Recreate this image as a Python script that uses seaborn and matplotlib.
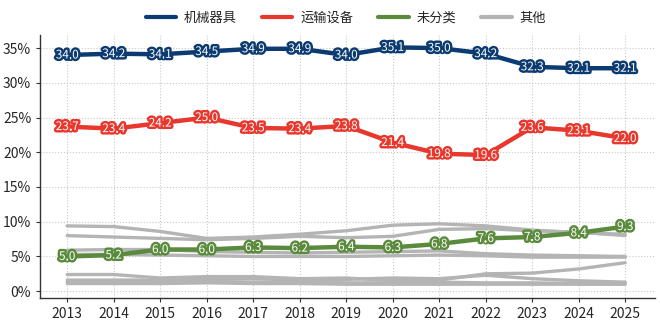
import matplotlib
matplotlib.use("Agg")
import matplotlib.pyplot as plt
import matplotlib.patheffects as pe
from matplotlib.ticker import FuncFormatter
from matplotlib.lines import Line2D
import seaborn as sns
import pandas as pd

years = list(range(2013, 2026))

machinery = [34.0, 34.2, 34.1, 34.5, 34.9, 34.9, 34.0, 35.1, 35.0, 34.2, 32.3, 32.1, 32.1]
transport = [23.7, 23.4, 24.2, 25.0, 23.5, 23.4, 23.8, 21.4, 19.8, 19.6, 23.6, 23.1, 22.0]
unclassified = [5.0, 5.2, 6.0, 6.0, 6.3, 6.2, 6.4, 6.3, 6.8, 7.6, 7.8, 8.4, 9.3]

others = [
    [9.4, 9.3, 8.6, 7.6, 7.8, 8.2, 8.7, 9.5, 9.7, 9.4, 8.8, 8.4, 8.2],
    [8.0, 7.8, 7.6, 7.4, 7.6, 7.9, 7.7, 7.9, 8.9, 9.0, 8.7, 8.5, 8.0],
    [5.9, 6.0, 6.0, 5.7, 5.6, 5.5, 5.6, 5.7, 5.8, 5.4, 5.2, 5.1, 5.0],
    [5.3, 5.3, 5.2, 5.1, 5.0, 5.0, 5.0, 5.1, 5.2, 5.1, 4.9, 4.9, 4.9],
    [2.4, 2.4, 1.9, 2.1, 2.1, 1.8, 1.9, 1.5, 1.6, 2.5, 2.6, 3.2, 4.1],
    [1.6, 1.6, 1.6, 1.7, 1.8, 1.6, 1.7, 1.9, 1.8, 2.3, 1.8, 1.5, 1.3],
    [1.3, 1.3, 1.4, 1.4, 1.3, 1.3, 1.2, 1.2, 1.3, 1.2, 1.2, 1.1, 1.1],
    [1.1, 1.1, 1.1, 1.2, 1.1, 1.1, 1.0, 1.0, 1.0, 1.0, 1.0, 1.0, 1.0],
]

main_names = ["机械器具", "运输设备", "未分类"]
main_values = [machinery, transport, unclassified]
main_colors = ["#0b3b70", "#e8372c", "#5a8a3c"]
other_name = "其他"
other_color = "#b4b4b4"

sns.set_style("white")
plt.rcParams["font.family"] = ["Noto Sans CJK SC", "DejaVu Sans"]

fig = plt.figure(figsize=(6.6, 3.23), dpi=100)
ax = fig.add_axes([0.061, 0.077, 0.932, 0.815])

rows = []
for i, vals in enumerate(others):
    for y, v in zip(years, vals):
        rows.append({"year": y, "value": v, "series": f"o{i}"})
df_o = pd.DataFrame(rows)
sns.lineplot(data=df_o, x="year", y="value", units="series", estimator=None,
             color=other_color, linewidth=2.4, ax=ax, zorder=2, legend=False)

for name, vals, col in zip(main_names, main_values, main_colors):
    d = pd.DataFrame({"year": years, "value": vals})
    sns.lineplot(data=d, x="year", y="value", color=col, linewidth=3.2, ax=ax, zorder=3)
    for x, v in zip(years, vals):
        ax.text(x, v, f"{v:.1f}", ha="center", va="center", fontsize=8.5,
                color="white", zorder=5,
                path_effects=[pe.withStroke(linewidth=3.5, foreground=col)])

handles = [Line2D([], [], color=c, linewidth=3) for c in main_colors]
handles.append(Line2D([], [], color=other_color, linewidth=3))
labels = main_names + [other_name]
fig.legend(handles, labels, loc="upper center", bbox_to_anchor=(0.524, 1.0), ncol=4,
           frameon=False, fontsize=9.5, handlelength=2.3, handletextpad=0.6,
           columnspacing=1.9)

ax.set_xlim(2012.42, 2025.65)
ax.set_ylim(-1.0, 36.9)
ax.set_xticks(years)
ax.set_yticks([0, 5, 10, 15, 20, 25, 30, 35])
ax.yaxis.set_major_formatter(FuncFormatter(lambda v, p: f"{v:.0f}%"))
ax.tick_params(axis="both", labelsize=10, length=3, color="#333333", left=True, bottom=True)
ax.set_xlabel("")
ax.set_ylabel("")
ax.grid(True, linestyle=":", color="#c8c8c8", linewidth=0.8)
for s in ["top", "right"]:
    ax.spines[s].set_visible(False)
for s in ["left", "bottom"]:
    ax.spines[s].set_color("#333333")
    ax.spines[s].set_linewidth(1.0)

fig.savefig("out.png", dpi=100)
